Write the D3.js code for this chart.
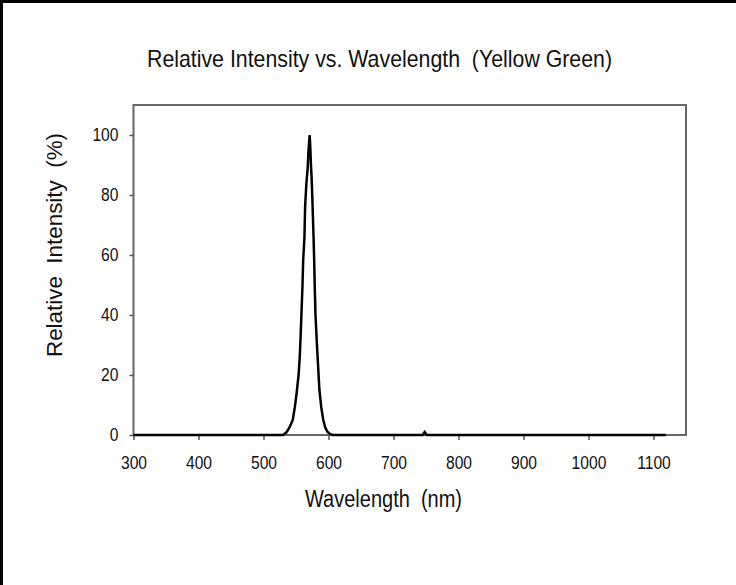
<!DOCTYPE html>
<html>
<head>
<meta charset="utf-8">
<script src="https://cdn.jsdelivr.net/npm/d3@7"></script>
<style>
  body { margin: 0; background: #fff; }
  svg text { font-family: "Liberation Sans Narrow", "Arial Narrow", "Liberation Sans", sans-serif; fill: #111; }
</style>
</head>
<body>
<script>
// spectrum values
var wavelength = [300, 530, 535, 540, 545, 548, 551, 554, 556, 558, 560, 561, 563, 564, 566, 568, 569, 570, 571,
                  572, 573, 574, 575, 576, 577, 578, 579, 580, 582, 584, 586, 589, 592, 595, 598, 602, 606,
                  745, 748, 751, 1119];
var intensity  = [0, 0, 0.8, 2.5, 5, 9, 14, 20, 27, 38, 50, 58, 66, 76, 84, 89, 94, 97, 100,
                  96, 90, 86, 80, 73, 66, 58, 48, 40, 31, 23, 15, 9, 5, 2.5, 1.2, 0.4, 0,
                  0, 1, 0, 0];

var xTicks = [300, 400, 500, 600, 700, 800, 900, 1000, 1100];
var yTicks = [0, 20, 40, 60, 80, 100];

var W = 736, H = 585;
var margin = {top: 105, right: 50, bottom: 150, left: 133.5};
var width = 686 - margin.left, height = 435 - margin.top;

var svg = d3.select("body").append("svg")
    .attr("width", W)
    .attr("height", H);

// outer frame (top and left only)
svg.append("line").attr("x1", 0).attr("x2", W).attr("y1", 1.5).attr("y2", 1.5)
    .attr("stroke", "#000").attr("stroke-width", 3);
svg.append("line").attr("x1", 1.5).attr("x2", 1.5).attr("y1", 0).attr("y2", H)
    .attr("stroke", "#000").attr("stroke-width", 3);

var g = svg.append("g")
    .attr("transform", "translate(" + margin.left + "," + margin.top + ")");

var x = d3.scaleLinear().domain([300, 1150]).range([0, width]);
var y = d3.scaleLinear().domain([0, 110]).range([height, 0]);

// plot box
g.append("rect")
    .attr("width", width).attr("height", height)
    .attr("fill", "none").attr("stroke", "#666").attr("stroke-width", 2);

var xAxis = g.append("g")
    .attr("transform", "translate(0," + height + ")")
    .call(d3.axisBottom(x).tickValues(xTicks).tickSize(5).tickPadding(16).tickFormat(d3.format("d")));
var yAxis = g.append("g")
    .call(d3.axisLeft(y).tickValues(yTicks).tickSize(4).tickPadding(11).tickFormat(d3.format("d")));

[xAxis, yAxis].forEach(function(a) {
    a.select(".domain").remove();
    a.selectAll(".tick line").attr("stroke", "#555").attr("stroke-width", 1.5);
    a.selectAll(".tick text").style("font-size", "17px").attr("fill", "#222")
        .attr("transform", "scale(0.92,1.08)");
});
// keep the squeezed labels centred on their ticks
xAxis.selectAll(".tick text").attr("transform", null)
    .each(function() {
        var t = d3.select(this);
        var yy = +t.attr("y");
        t.attr("y", null).attr("transform", "translate(0," + yy + ") scale(0.92,1.08)");
    });
yAxis.selectAll(".tick text").attr("transform", null)
    .each(function() {
        var t = d3.select(this);
        var xx = +t.attr("x");
        t.attr("x", null).attr("transform", "translate(" + xx + ",0) scale(0.92,1.08)");
    });

// spectrum line
var line = d3.line()
    .x(function(d) { return x(d[0]); })
    .y(function(d) { return y(d[1]); });

g.append("path")
    .datum(d3.zip(wavelength, intensity))
    .attr("d", line)
    .attr("fill", "none")
    .attr("stroke", "#000")
    .attr("stroke-width", 2.5)
    .attr("stroke-linejoin", "miter");

// titles
svg.append("text")
    .attr("x", 147).attr("y", 67)
    .attr("textLength", 465).attr("lengthAdjust", "spacingAndGlyphs")
    .style("font-size", "24px")
    .style("white-space", "pre")
    .text("Relative Intensity vs. Wavelength  (Yellow Green)");

svg.append("text")
    .attr("x", 305).attr("y", 507)
    .attr("textLength", 157).attr("lengthAdjust", "spacingAndGlyphs")
    .style("font-size", "23px")
    .style("white-space", "pre")
    .text("Wavelength  (nm)");

svg.append("text")
    .attr("transform", "translate(62,357) rotate(-90)")
    .attr("textLength", 224).attr("lengthAdjust", "spacingAndGlyphs")
    .style("font-size", "22px")
    .style("white-space", "pre")
    .text("Relative  Intensity  (%)");
</script>
</body>
</html>
